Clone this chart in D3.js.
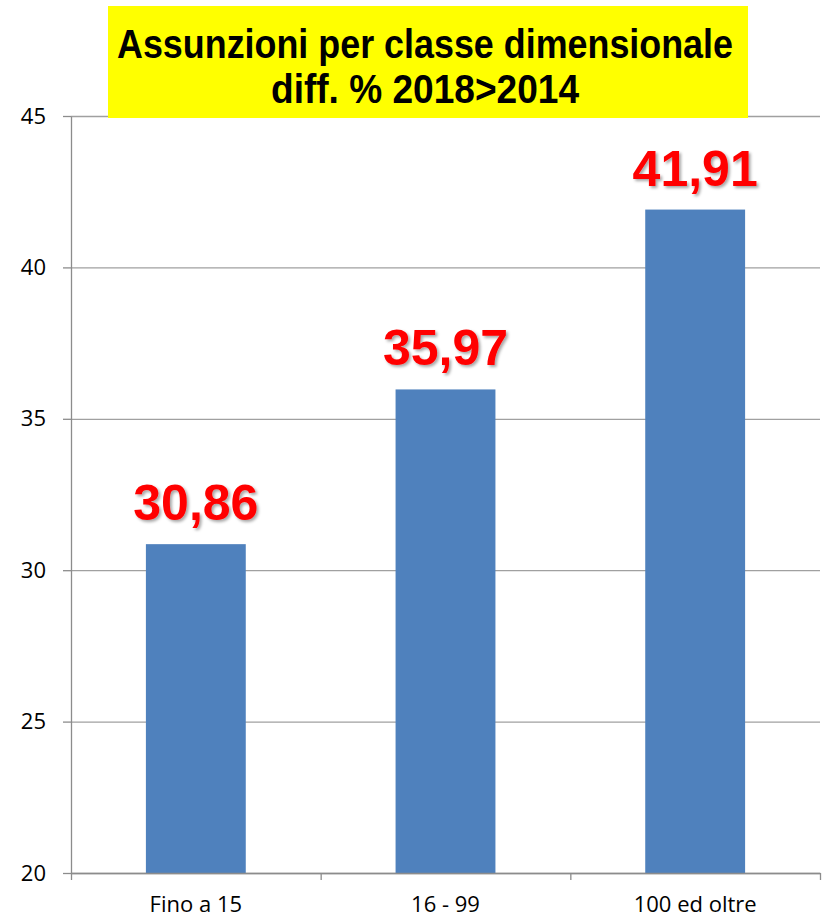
<!DOCTYPE html>
<html>
<head>
<meta charset="utf-8">
<script src="https://cdn.jsdelivr.net/npm/d3@7"></script>
<style>
  body { margin: 0; background: white; }
</style>
</head>
<body>
<div id="chart"></div>
<script>
const categories = ["Fino a 15", "16 - 99", "100 ed oltre"];
const values = [30.86, 35.97, 41.91];
const valueLabels = ["30,86", "35,97", "41,91"];
const yTicks = [20, 25, 30, 35, 40, 45];
const titleLines = ["Assunzioni per classe dimensionale", "diff. % 2018>2014"];

const wSvg = 825;
const hSvg = 920;
const plotLeft = 71;
const plotRight = 820;
const plotTop = 116;
const plotBottom = 873;

let svg = d3.select("#chart")
    .append("svg")
    .attr("width", wSvg)
    .attr("height", hSvg)
    .style("background-color", "white");

let yScale = d3.scaleLinear([20, 45], [plotBottom, plotTop]);
let xScale = d3.scaleBand(categories, [plotLeft, plotRight]);
let edgeScale = d3.scaleLinear([0, categories.length], [plotLeft, plotRight]);

// drop shadow for value labels
let filter = svg.append("defs").append("filter")
    .attr("id", "shadow")
    .attr("x", "-20%").attr("y", "-20%")
    .attr("width", "140%").attr("height", "140%");
filter.append("feDropShadow")
    .attr("dx", 2).attr("dy", 2)
    .attr("stdDeviation", 1.5)
    .attr("flood-color", "#000")
    .attr("flood-opacity", 0.35);

// gridlines
svg.append("g")
    .attr("transform", `translate(${plotLeft}, 0)`)
    .call(d3.axisLeft(yScale).tickValues(yTicks).tickSize(-(plotRight - plotLeft)).tickFormat(""))
    .call(g => g.select(".domain").remove())
    .selectAll(".tick line")
    .attr("stroke", "#a0a0a0")
    .attr("stroke-width", 1.3);

// bars
let barW = xScale.bandwidth() * 0.4;
svg.append("g")
    .selectAll("rect")
    .data(values)
    .enter()
    .append("rect")
    .attr("x", (d, i) => xScale(categories[i]) + (xScale.bandwidth() - barW) / 2)
    .attr("y", d => yScale(d))
    .attr("width", barW)
    .attr("height", d => yScale(20) - yScale(d))
    .attr("fill", "#4f81bd");

// y axis
svg.append("g")
    .attr("transform", `translate(${plotLeft}, 0)`)
    .call(d3.axisLeft(yScale).tickValues(yTicks).tickSize(8).tickPadding(17).tickSizeOuter(0))
    .call(g => g.selectAll("text")
        .attr("fill", "black")
        .style("font-family", "'Open Sans', sans-serif")
        .style("font-size", "22px"))
    .call(g => g.selectAll(".domain, .tick line").attr("stroke", "#8c8c8c").attr("stroke-width", 1.3));

// x axis ticks at band edges
svg.append("g")
    .attr("transform", `translate(0, ${plotBottom})`)
    .call(d3.axisBottom(edgeScale).ticks(categories.length).tickSize(7).tickFormat("").tickSizeOuter(0))
    .call(g => g.selectAll(".domain, .tick line").attr("stroke", "#8c8c8c").attr("stroke-width", 1.3));

// x axis labels
svg.append("g")
    .attr("transform", `translate(0, ${plotBottom})`)
    .call(d3.axisBottom(xScale).tickSize(0).tickPadding(23))
    .call(g => g.select(".domain").remove())
    .selectAll("text")
    .attr("fill", "black")
    .style("font-family", "'Open Sans', sans-serif")
    .style("font-size", "22px");

// value labels
svg.append("g")
    .selectAll("text")
    .data(values)
    .enter()
    .append("text")
    .attr("x", (d, i) => xScale(categories[i]) + xScale.bandwidth() / 2)
    .attr("y", d => yScale(d) - 24)
    .attr("text-anchor", "middle")
    .attr("fill", "#ff0000")
    .attr("filter", "url(#shadow)")
    .style("font-family", "'Liberation Sans', Arial, sans-serif")
    .style("font-weight", "bold")
    .style("font-size", "50px")
    .text((d, i) => valueLabels[i]);

// title box
svg.append("rect")
    .attr("x", 108)
    .attr("y", 6)
    .attr("width", 640)
    .attr("height", 112)
    .attr("fill", "#ffff00");

const titleWidths = [616, 308];
svg.append("g")
    .selectAll("text")
    .data(titleLines)
    .enter()
    .append("text")
    .attr("x", 425)
    .attr("y", (d, i) => 58 + i * 45)
    .attr("text-anchor", "middle")
    .attr("textLength", (d, i) => titleWidths[i])
    .attr("lengthAdjust", "spacingAndGlyphs")
    .attr("fill", "black")
    .style("font-family", "'Liberation Sans Narrow', 'Liberation Sans', sans-serif")
    .style("font-weight", "bold")
    .style("font-size", "40px")
    .text(d => d);
</script>
</body>
</html>
